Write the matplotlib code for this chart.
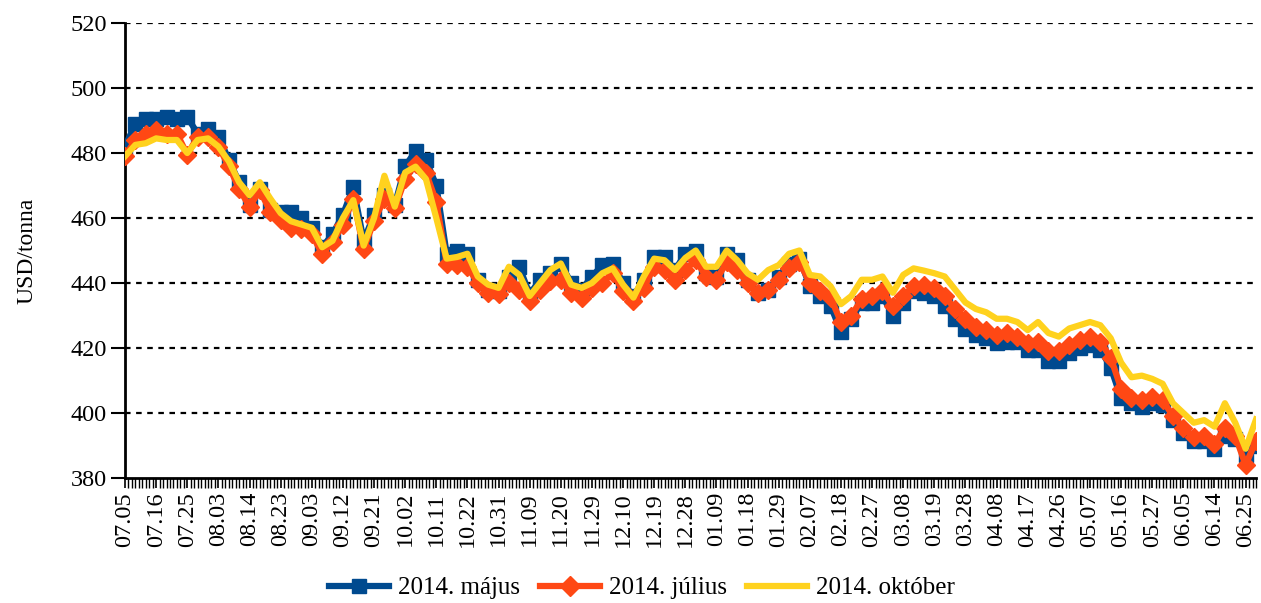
import matplotlib
matplotlib.use('Agg')
from matplotlib import pyplot as plt
from matplotlib.ticker import MultipleLocator

# Tick labels (one every 9 trading days).
dates = ['07.05', '07.16', '07.25', '08.03', '08.14', '08.23', '09.03', '09.12',
         '09.21', '10.02', '10.11', '10.22', '10.31', '11.09', '11.20', '11.29',
         '12.10', '12.19', '12.28', '01.09', '01.18', '01.29', '02.07', '02.18',
         '02.27', '03.08', '03.19', '03.28', '04.08', '04.17', '04.26', '05.07',
         '05.16', '05.27', '06.05', '06.14', '06.25']

# Prices, one value every 3 trading days (USD/tonna).
majus = [482, 489, 490.5, 490.5, 491, 490.5, 491, 486, 487.5, 485,
         478, 471, 464, 469, 462.5, 462, 462, 460, 457, 451,
         455, 461, 469.5, 453, 461, 467, 464, 476, 480.5, 478,
         470, 449, 450, 449, 441, 438, 437.5, 442, 445, 436.5,
         441, 443, 446, 440, 438, 442, 445.5, 446, 440, 436,
         441, 448, 448, 444, 449, 450, 443, 442, 449, 447,
         441, 437, 438, 442, 446, 447.5, 439, 436, 433, 425,
         429, 434, 434, 436, 430, 434, 437.5, 437, 436, 433,
         429, 426, 424, 423, 421.5, 422, 422, 419.5, 419.5, 416,
         416, 418.5, 420, 421, 419.5, 414, 404.5, 403, 402, 403,
         402.5, 398, 394, 391.5, 391.5, 389, 393, 392, 387, 390]

julius = [479, 484, 486, 487, 486, 486, 479.5, 485, 485, 482,
          476, 469, 463.5, 468.5, 462, 459.5, 457, 456.5, 455, 449,
          452.5, 458, 466, 450.5, 459, 466, 463, 472, 476.5, 474,
          465, 446, 445.5, 445, 440, 437, 436.5, 440, 438, 434.5,
          438, 440.5, 441, 437, 435.5, 438.5, 440, 443, 437.5, 434.5,
          438.5, 445, 444, 441, 444, 447, 442, 441, 446.5, 444,
          440, 437, 438, 441, 444.5, 446.5, 440, 437.5, 435.5, 428,
          430, 435, 436, 437.5, 433, 436, 439, 439.5, 438.5, 436,
          432, 429, 426.5, 425.5, 424, 424.5, 423.5, 421.5, 422, 419,
          419, 421, 422.5, 423.5, 422, 417, 407.5, 404.5, 404, 405,
          404, 399, 395.5, 392.5, 393, 390.5, 395.5, 393, 384, 391.5]

oktober = [479, 482.5, 483, 484.5, 484, 484, 480, 484, 484.5, 482,
           477.5, 471, 467, 471, 466, 461.5, 459, 458, 457, 451,
           453, 460, 465.5, 451.5, 460, 473, 463.5, 474, 475.8, 472,
           460, 447.5, 448, 449, 442, 439.5, 438.5, 445, 442.5, 436,
           440, 444, 446, 439.5, 438.5, 440, 443, 444.5, 439.5, 435.5,
           442, 447.5, 447, 444, 447.7, 450, 445, 445, 450, 447,
           443, 441, 444, 445.5, 449, 450, 442.5, 442, 439, 433.5,
           436, 441, 441, 442, 437, 442.5, 444.5, 443.8, 443, 442,
           438, 434, 432, 431, 429, 429, 428, 425.5, 428, 424.6,
           423.5, 426, 427, 428, 427, 423, 415.5, 411, 411.5, 410.5,
           409, 403, 400, 397, 397.8, 395.8, 403, 397, 389, 398]

step = 3
x = [i * step for i in range(len(oktober))]

plt.rcParams['font.family'] = ['Liberation Serif', 'DejaVu Serif']

fig = plt.figure(figsize=(12.61, 6.03), dpi=100)
ax = fig.add_axes([125 / 1261, 1 - 478 / 603, 1131 / 1261, 455 / 603])

blue = '#004a8f'
red = '#ff4814'
yellow = '#ffd21e'

ax.plot(x, majus, color=blue, lw=4.5, marker='s', ms=9.5, mec=blue, mfc=blue,
        label='2014. május', zorder=3)
ax.plot(x, julius, color=red, lw=4.5, marker='D', ms=9.5, mec=red, mfc=red,
        label='2014. július', zorder=4)
ax.plot(x, oktober, color=yellow, lw=4.5, label='2014. október', zorder=5)

# Axes and grid
ax.set_xlim(0, x[-1])
ax.set_ylim(380, 520)
ax.yaxis.set_major_locator(MultipleLocator(20))
for y in range(400, 521, 20):
    ax.axhline(y, color='black', lw=1.6, ls=(0, (2.5, 2.5)), zorder=1)

ax.set_xticks(range(0, 9 * len(dates), 9))
ax.set_xticklabels(dates, rotation=90)
ax.xaxis.set_minor_locator(MultipleLocator(1))
ax.tick_params(axis='x', which='major', length=7, width=1.2, labelsize=17.5, pad=3)
ax.tick_params(axis='x', which='minor', length=7, width=1.0)
ax.tick_params(axis='y', which='major', length=10, width=1.5, labelsize=17.5, pad=3)

for side in ('top', 'right'):
    ax.spines[side].set_visible(False)
for side in ('left', 'bottom'):
    ax.spines[side].set_linewidth(2)

ax.set_ylabel('USD/tonna', fontsize=17, labelpad=24)

fig.legend(loc='center', bbox_to_anchor=(642 / 1261, 1 - 588 / 603), ncol=3,
           frameon=False, fontsize=18, handlelength=2.4, handletextpad=0.35,
           columnspacing=0.8, markerscale=1.1)

plt.savefig('out.png', dpi=100)
